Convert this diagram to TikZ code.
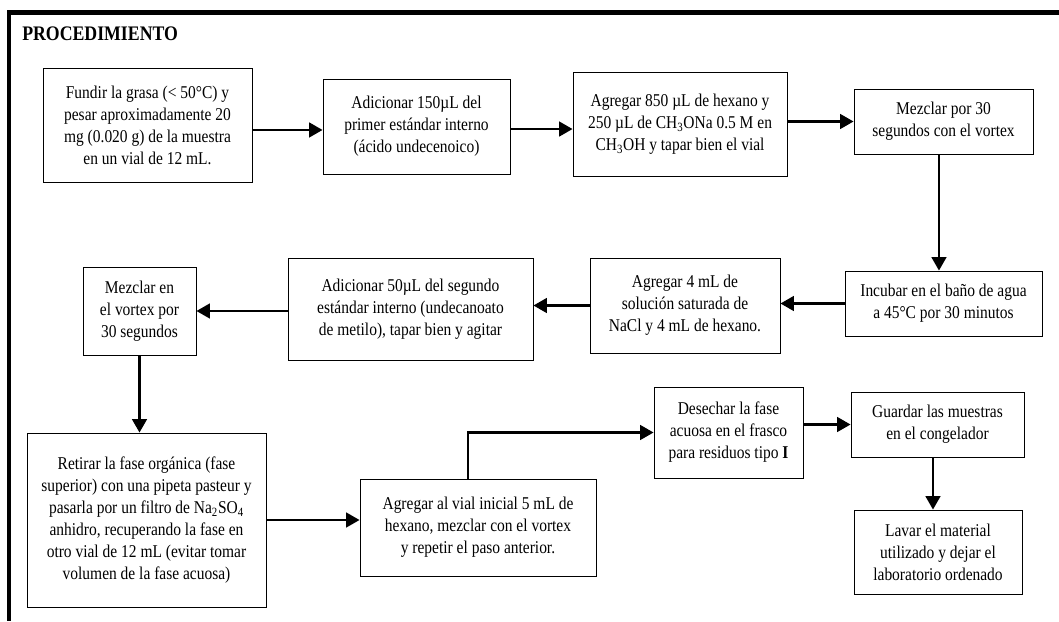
\documentclass[tikz,border=0pt]{standalone}
\usepackage{fontspec}
\setmainfont{Liberation Serif}[FakeStretch=0.86]
\usetikzlibrary{positioning,arrows.meta}

\begin{document}
\begin{tikzpicture}[x=0.75pt,y=-0.75pt,
  paso/.style={draw,line width=0.7pt,align=center,inner sep=2pt,
               font=\fontsize{13.5}{16.5}\selectfont},
  flecha/.style={line width=1.6pt,-{Triangle[length=10pt,width=11pt]}}]

  \useasboundingbox (0,0) rectangle (1059,621);

  % ---- marco y titulo ----
  \fill (7,10) rectangle (1059,15);
  \fill (7,10) rectangle (11,621);
  \node[anchor=west,inner sep=0,font=\fontsize{15.5}{18}\selectfont\bfseries] (titulo) at (22,34) {PROCEDIMIENTO};

  % ---- fila 1 ----
  \node[paso,minimum width=156.75pt,minimum height=85.5pt] (b1) at (147.5,125)
    {Fundir la grasa (< 50°C) y\\pesar aproximadamente 20\\mg (0.020 g) de la muestra\\en un vial de 12 mL.};
  \node[paso,minimum width=140.25pt,minimum height=71.25pt] (b2) at (416.5,126.5)
    {Adicionar 150µL del\\primer estándar interno\\(ácido undecenoico)};
  \node[paso,minimum width=160.5pt,minimum height=78pt] (b3) at (680,124)
    {Agregar 850 µL de hexano y\\250 µL de CH\textsubscript{3}ONa 0.5 M en\\CH\textsubscript{3}OH y tapar bien el vial};
  \node[paso,minimum width=134.25pt,minimum height=48.75pt] (b4) at (943.5,121.5)
    {Mezclar por 30\\segundos con el vortex};

  % ---- fila 2 ----
  \node[paso,minimum width=147.75pt,minimum height=48.75pt] (b5) at (943.5,303.5)
    {Incubar en el baño de agua\\a 45°C por 30 minutos};
  \node[paso,minimum width=142.5pt,minimum height=71.25pt] (b6) at (685,305.5)
    {Agregar 4 mL de\\solución saturada de\\NaCl y 4 mL de hexano.};
  \node[paso,minimum width=183.75pt,minimum height=76.5pt] (b7) at (410.5,309)
    {Adicionar 50µL del segundo\\estándar interno (undecanoato\\de metilo), tapar bien y agitar};
  \node[paso,minimum width=84.75pt,minimum height=66pt] (b8) at (139.5,311)
    {Mezclar en\\el vortex por\\30 segundos};

  % ---- fila 3 ----
  \node[paso,minimum width=179.25pt,minimum height=130.5pt] (b9) at (146.5,520)
    {Retirar la fase orgánica (fase\\superior) con una pipeta pasteur y\\pasarla por un filtro de Na\textsubscript{2}SO\textsubscript{4}\\anhidro, recuperando la fase en\\otro vial de 12 mL (evitar tomar\\volumen de la fase acuosa)};
  \node[paso,minimum width=177pt,minimum height=72.75pt] (b10) at (478,527.5)
    {Agregar al vial inicial 5 mL de\\hexano, mezclar con el vortex\\y repetir el paso anterior.};
  \node[paso,minimum width=111.75pt,minimum height=68.25pt] (b11) at (728.5,432.5)
    {Desechar la fase\\acuosa en el frasco\\para residuos tipo \textbf{I}};
  \node[paso,minimum width=129.75pt,minimum height=48.75pt] (b12) at (937.5,424.5)
    {Guardar las muestras\\en el congelador};
  \node[paso,minimum width=126pt,minimum height=63pt] (b13) at (938,552)
    {Lavar el material\\utilizado y dejar el\\laboratorio ordenado};

  % ---- flechas ----
  \draw[flecha] ([yshift=-2.6pt]b2.west -| b1.east) -- ([yshift=-2.6pt]b2.west);
  \draw[flecha] ([yshift=-1.9pt]b2.east) -- ([yshift=-1.9pt]b2.east -| b3.west);
  \draw[flecha] (b4.west -| b3.east) -- (b4.west);
  \draw[flecha] ([xshift=-3.4pt]b4.south) -- ([xshift=-3.4pt]b4.south |- b5.north);
  \draw[flecha] (b5.west) -- (b5.west -| b6.east);
  \draw[flecha] (b6.west) -- (b6.west -| b7.east);
  \draw[flecha] (b8.east -| b7.west) -- (b8.east);
  \draw[flecha] (b8.south) -- (b8.south |- b9.north);
  \draw[flecha] (b9.east) -- (b9.east -| b10.west);
  \draw[flecha] ([xshift=-7.5pt]b10.north) |- (b11.west);
  \draw[flecha] (b12.west -| b11.east) -- (b12.west);
  \draw[flecha] ([xshift=-3.4pt]b12.south) -- ([xshift=-3.4pt]b12.south |- b13.north);

\end{tikzpicture}
\end{document}
